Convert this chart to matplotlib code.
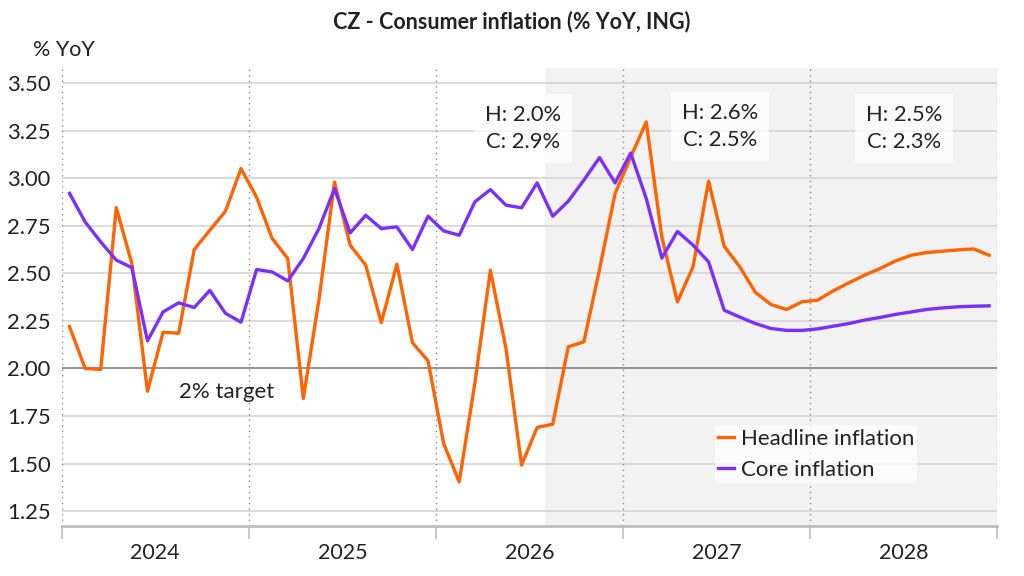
import matplotlib
matplotlib.use("Agg")
import matplotlib.pyplot as plt
import numpy as np

plt.rcParams['font.family'] = ['Lato', 'DejaVu Sans']

years = ["2024", "2025", "2026", "2027", "2028"]

headline = [2.22, 2.00, 1.995, 2.845, 2.55, 1.88, 2.19, 2.185, 2.625, 2.726, 2.826, 3.05,
            2.90, 2.683, 2.578, 1.842, 2.36, 2.98, 2.648, 2.543, 2.24, 2.548, 2.135, 2.04,
            1.606, 1.404, 1.92, 2.516, 2.105, 1.492, 1.69, 1.707, 2.114, 2.14, 2.52, 2.919,
            3.11, 3.295, 2.69, 2.35, 2.534, 2.985, 2.642, 2.534, 2.40, 2.336, 2.31, 2.35,
            2.359, 2.408, 2.45, 2.49, 2.525, 2.565, 2.595, 2.609, 2.616, 2.623, 2.628, 2.595]

core = [2.92, 2.77, 2.665, 2.569, 2.53, 2.145, 2.297, 2.345, 2.32, 2.41, 2.29, 2.243,
        2.52, 2.507, 2.46, 2.578, 2.735, 2.945, 2.712, 2.805, 2.735, 2.744, 2.625, 2.80,
        2.723, 2.70, 2.875, 2.94, 2.858, 2.844, 2.975, 2.80, 2.879, 2.99, 3.108, 2.975,
        3.132, 2.893, 2.58, 2.72, 2.648, 2.56, 2.306, 2.27, 2.236, 2.21, 2.20, 2.20,
        2.208, 2.222, 2.236, 2.254, 2.268, 2.284, 2.297, 2.31, 2.318, 2.324, 2.327, 2.329]

annotations = ["H: 2.0%\nC: 2.9%", "H: 2.6%\nC: 2.5%", "H: 2.5%\nC: 2.3%"]
annot_x = [29.6, 42.25, 54.05]   # in months from Jan 2024
annot_y = [3.26, 3.27, 3.26]
forecast_start = 31  # Aug 2026

yticks = [1.25, 1.50, 1.75, 2.00, 2.25, 2.50, 2.75, 3.00, 3.25, 3.50]

fig = plt.figure(figsize=(10.24, 5.76), dpi=100)
ax = fig.add_axes([0.0603, 0.0868, 0.9133, 0.7952])

n = len(headline)
x = np.arange(n) + 0.5
ax.set_xlim(0, n)
ax.set_ylim(1.172, 3.579)

# forecast shading
ax.axvspan(forecast_start, n, color='#f2f2f2', zorder=0, lw=0)

# grid
for yt in yticks:
    if yt == 2.0:
        ax.axhline(yt, color='#808080', lw=1.2, zorder=1)
    else:
        ax.axhline(yt, color='#d4d4d4', lw=1.2, zorder=1)

# year boundaries
for k in range(len(years) + 1):
    ax.axvline(12 * k, color='#888888', lw=1.0, ls=(0, (1, 3)), zorder=1)

ax.plot(x, headline, color='#FF6200', lw=2.4, label='Headline inflation', zorder=3)
ax.plot(x, core, color='#7A2FFF', lw=2.4, label='Core inflation', zorder=3)

for s in ['top', 'right', 'left']:
    ax.spines[s].set_visible(False)
ax.spines['bottom'].set_color('#bdbdbd')
ax.spines['bottom'].set_linewidth(2)

ax.set_yticks(yticks)
ax.set_yticklabels([f"{v:.2f}" for v in yticks], fontsize=15.8, color='#222222')
ax.tick_params(axis='y', length=0, pad=8)

ax.set_xticks([12 * k for k in range(len(years) + 1)])
ax.set_xticklabels([])
ax.tick_params(axis='x', length=9, color='#bdbdbd', width=1.2)
ax.set_xticks([12 * k + 6 for k in range(len(years))], minor=True)
ax.set_xticklabels(years, minor=True, fontsize=15.5, color='#222222')
ax.tick_params(axis='x', which='minor', length=0, pad=12)

ax.text(7.5, 1.875, "2% target", fontsize=16, color='#222222', ha='left', va='center')

for t, ax_x, ax_y in zip(annotations, annot_x, annot_y):
    ax.text(ax_x, ax_y, t, fontsize=15.8, color='#222222', ha='center', va='center',
            linespacing=1.42,
            bbox=dict(boxstyle='square,pad=0.5', fc='white', ec='none', alpha=0.75), zorder=4)

leg = ax.legend(loc='lower left', bbox_to_anchor=(0.6985, 0.094), fontsize=16, frameon=True,
                fancybox=False, handlelength=0.7, handletextpad=0.3, borderpad=0.15,
                labelspacing=0.5, borderaxespad=0)
leg.get_frame().set_facecolor('white')
leg.get_frame().set_alpha(0.75)
leg.get_frame().set_edgecolor('none')
for t in leg.get_texts():
    t.set_color('#222222')

fig.text(0.0322, 0.913, "% YoY", fontsize=15.5, color='#222222', ha='left', va='center')
fig.text(0.5, 0.962, "CZ - Consumer inflation (% YoY, ING)", fontsize=15.5, fontweight='bold',
         color='#222222', ha='center', va='center')

fig.savefig("out.png", dpi=100)
